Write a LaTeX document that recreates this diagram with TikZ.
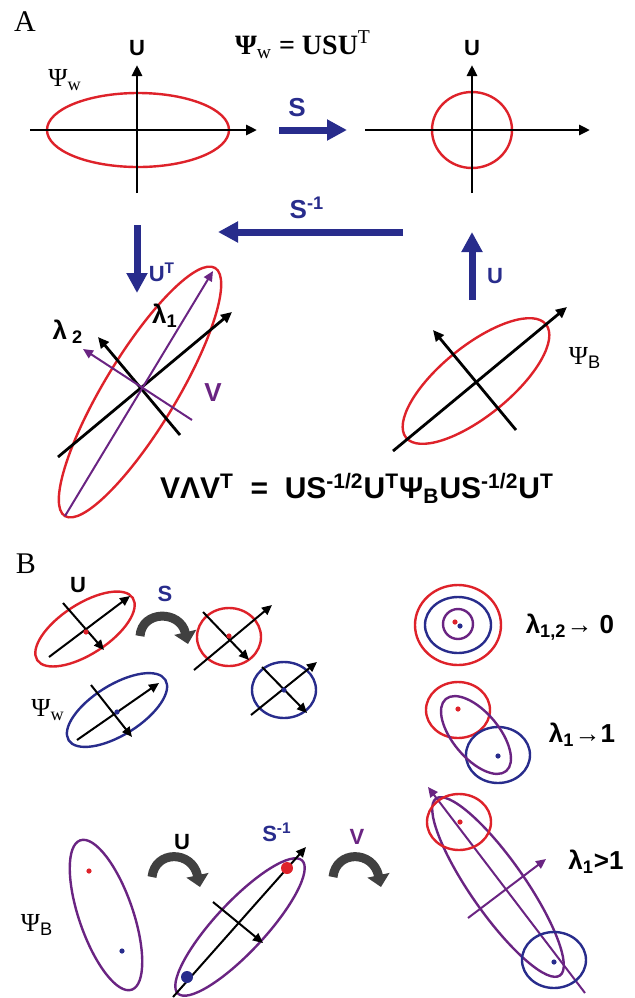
\documentclass[tikz,border=0pt]{standalone}
\usepackage{fontspec}
\setmainfont{Liberation Serif}
\setsansfont{Liberation Sans}
\usetikzlibrary{arrows.meta}
\definecolor{ered}{RGB}{222,34,42}
\definecolor{eblue}{RGB}{40,44,140}
\definecolor{evio}{RGB}{106,36,130}
\definecolor{egray}{RGB}{64,64,64}
\tikzstyle{ax}=[line width=1.4pt, -{Triangle[length=5.5pt,width=5pt]}]
\tikzstyle{axs}=[line width=1pt, -{Triangle[length=5pt,width=4.5pt]}]
\tikzstyle{bigar}=[eblue, line width=3.5pt, -{Triangle[length=10pt,width=10pt]}]
\tikzstyle{turn}=[egray, line width=4.5pt, -{Triangle[length=6pt,width=11pt]}]
\tikzstyle{ell}=[line width=1.2pt]
\tikzstyle{lab}=[font=\sffamily\bfseries\fontsize{11}{13}\selectfont, inner sep=0]
\tikzstyle{big}=[font=\sffamily\bfseries\fontsize{13}{15}\selectfont, inner sep=0]
\tikzstyle{ser}=[font=\fontsize{13}{15}\selectfont, inner sep=0]
\tikzstyle{dot}=[shape=circle, minimum size=2.6pt, inner sep=0]
\tikzstyle{bdot}=[shape=circle, minimum size=6pt, inner sep=0]

\begin{document}
\begin{tikzpicture}[x=0.5pt, y=-0.5pt]
\useasboundingbox (0,0) rectangle (634,998);
% ---- A ----
\node at (25,22)[font=\fontsize{15}{16}\selectfont](A){A};
\node at (303,45)[font=\bfseries\fontsize{14}{16}\selectfont](eqw){Ψ\textsubscript{\mdseries w} = USU\textsuperscript{\mdseries T}};
% left axes
\coordinate (h1) at (30,130); \coordinate (h2) at (257,130);
\coordinate (v1) at (137,193); \coordinate (v2) at (137,65);
\draw[ered, ell] (138,130) ellipse (91 and 37);
\draw[ax] (h1)--(h2);
\draw[ax] (v1)--(v2);
\node at (137,48)[lab](u1){U};
\node at (65,80)[ser](psiw){Ψ\textsubscript{w}};
% S
\coordinate (s1) at (279,130); \coordinate (s2) at (347,130);
\draw[bigar] (s1)--(s2);
\node at (297,108)[big, eblue](sl){S};
% right axes
\coordinate (h3) at (365,130); \coordinate (h4) at (590,130);
\coordinate (v3) at (472,193); \coordinate (v4) at (472,65);
\draw[ered, ell] (472,130) ellipse (40 and 38);
\draw[ax] (h3)--(h4);
\draw[ax] (v3)--(v4);
\node at (472,48)[lab](u2){U};
% S^-1, U^T, U
\coordinate (si1) at (403,232); \coordinate (si2) at (218,232);
\draw[bigar] (si1)--(si2);
\node at (307,208)[big, eblue](sil){S\textsuperscript{-1}};
\coordinate (ut1) at (137,225); \coordinate (ut2) at (137,293);
\draw[bigar] (ut1)--(ut2);
\node at (162,272)[lab, eblue](utl){U\textsuperscript{T}};
\coordinate (uu1) at (472,300); \coordinate (uu2) at (472,232);
\draw[bigar] (uu1)--(uu2);
\node at (495,276)[lab, eblue](uul){U};
% lower left
\draw[ered, ell, rotate around={58.8:(140,392)}] (140,392) ellipse (145 and 36);
\coordinate (l1a) at (65,516); \coordinate (l1b) at (213,271);
\coordinate (l2a) at (192,420); \coordinate (l2b) at (83,349);
\coordinate (k1a) at (58,457); \coordinate (k1b) at (232,312);
\coordinate (k2a) at (180,435); \coordinate (k2b) at (98,337);
\draw[ax] (k1a)--(k1b);
\draw[ax] (k2a)--(k2b);
\draw[axs, evio] (l1a)--(l1b);
\draw[axs, evio] (l2a)--(l2b);
\node at (165,316)[big](lam1){λ\textsubscript{1}};
\node at (68,332)[big](lam2){λ\textsubscript{ 2}};
\node at (213,393)[big, evio](vl){V};
% lower right
\draw[ered, ell, rotate around={39:(476,381)}] (476,381) ellipse (90 and 35);
\coordinate (k3a) at (393,451); \coordinate (k3b) at (567,307);
\coordinate (k4a) at (516,430); \coordinate (k4b) at (433,330);
\draw[ax] (k3a)--(k3b);
\draw[ax] (k4a)--(k4b);
\node at (585,358)[ser](psib){Ψ\textsubscript{\sffamily B}};
\node at (357,488)[big, font=\sffamily\bfseries\fontsize{15}{17}\selectfont](eqv){VΛV\textsuperscript{T} ~=~ US\textsuperscript{-1/2}U\textsuperscript{T}Ψ\textsubscript{B}US\textsuperscript{-1/2}U\textsuperscript{T}};
% ---- B ----
\node at (26,564)[font=\fontsize{15}{16}\selectfont](B){B};
\draw[ered, ell, rotate around={33:(85,629)}] (85,629) ellipse (57 and 25);
\coordinate (a1a) at (49,657); \coordinate (a1b) at (130,596);
\coordinate (a2a) at (63,603); \coordinate (a2b) at (104,650);
\draw[axs] (a1a)--(a1b);
\draw[axs] (a2a)--(a2b);
\node at (86,632)[dot, fill=ered](d1){};
\node at (78,585)[lab](ub){U};
\draw[eblue, ell, rotate around={32:(117,710)}] (117,710) ellipse (57 and 25);
\coordinate (a3a) at (77,740); \coordinate (a3b) at (159,683);
\coordinate (a4a) at (91,685); \coordinate (a4b) at (132,737);
\draw[axs] (a3a)--(a3b);
\draw[axs] (a4a)--(a4b);
\node at (117,712)[dot, fill=eblue](d2){};
\node at (48,710)[ser](psiw2){Ψ\textsubscript{w}};
\node at (165,594)[lab, eblue](sb){S};
\coordinate (t1a) at (140,636); \coordinate (t1b) at (188,644);
\draw[turn] (t1a) .. controls (142,610) and (180,610) .. (t1b);
\draw[ered, ell] (229,637) ellipse (32 and 29);
\coordinate (a5a) at (194,670); \coordinate (a5b) at (272,605);
\coordinate (a6a) at (203,612); \coordinate (a6b) at (249,660);
\draw[axs] (a5a)--(a5b);
\draw[axs] (a6a)--(a6b);
\node at (229,636)[dot, fill=ered](d3){};
\draw[eblue, ell] (284,690) ellipse (32 and 28);
\coordinate (a7a) at (251,715); \coordinate (a7b) at (317,662);
\coordinate (a8a) at (262,667); \coordinate (a8b) at (307,713);
\draw[axs] (a7a)--(a7b);
\draw[axs] (a8a)--(a8b);
\node at (284,690)[dot, fill=eblue](d4){};
% right column
\draw[ered, ell] (458,625) ellipse (43 and 40);
\draw[eblue, ell] (458,625) ellipse (33 and 28);
\draw[evio, ell] (458,624) ellipse (15 and 15);
\node at (455,622)[dot, fill=ered](d5){};
\node at (460,626)[dot, fill=eblue](d6){};
\node at (570,627)[big](l12){λ\textsubscript{1,2}→ 0};
\draw[ered, ell] (458,710) ellipse (32 and 28);
\draw[eblue, ell] (498,755) ellipse (32 and 28);
\draw[evio, ell, rotate around={-50:(476,735)}] (476,735) ellipse (47 and 23);
\node at (458,709)[dot, fill=ered](d7){};
\node at (498,756)[dot, fill=eblue](d8){};
\node at (582,735)[big](l11){λ\textsubscript{1}→1};
% bottom row
\draw[evio, ell, rotate around={109:(106,915)}] (106,915) ellipse (79 and 27);
\node at (89,871)[dot, fill=ered](d9){};
\node at (122,951)[dot, fill=eblue](d10){};
\node at (37,925)[ser](psib2){Ψ\textsubscript{\sffamily B}};
\node at (182,842)[lab](ub2){U};
\coordinate (t2a) at (152,877); \coordinate (t2b) at (200,887);
\draw[turn] (t2a) .. controls (155,850) and (192,850) .. (t2b);
\node at (277,832)[lab, eblue](sib){S\textsuperscript{-1}};
\draw[evio, ell, rotate around={47:(240,927)}] (240,927) ellipse (91 and 25);
\coordinate (a9a) at (173,997); \coordinate (a9b) at (306,847);
\coordinate (a10a) at (213,902); \coordinate (a10b) at (263,943);
\draw[axs] (a9a)--(a9b);
\draw[axs] (a10a)--(a10b);
\node at (287,868)[bdot, fill=ered](d11){};
\node at (187,977)[bdot, fill=eblue](d12){};
\node at (357,837)[lab, evio](vb){V};
\coordinate (t3a) at (333,877); \coordinate (t3b) at (381,887);
\draw[turn] (t3a) .. controls (336,850) and (373,850) .. (t3b);
\draw[evio, ell, rotate around={-55:(498,887)}] (498,887) ellipse (108 and 27);
\coordinate (p1a) at (585,993); \coordinate (p1b) at (428,787);
\coordinate (p2a) at (468,918); \coordinate (p2b) at (546,859);
\draw[axs, evio] (p1a)--(p1b);
\draw[axs, evio] (p2a)--(p2b);
\draw[ered, ell] (459,822) ellipse (32 and 28);
\draw[eblue, ell] (554,960) ellipse (32 and 28);
\node at (460,822)[dot, fill=ered](d13){};
\node at (554,962)[dot, fill=eblue](d14){};
\node at (596,862)[big](l1g){λ\textsubscript{1}>1};
\end{tikzpicture}
\end{document}
